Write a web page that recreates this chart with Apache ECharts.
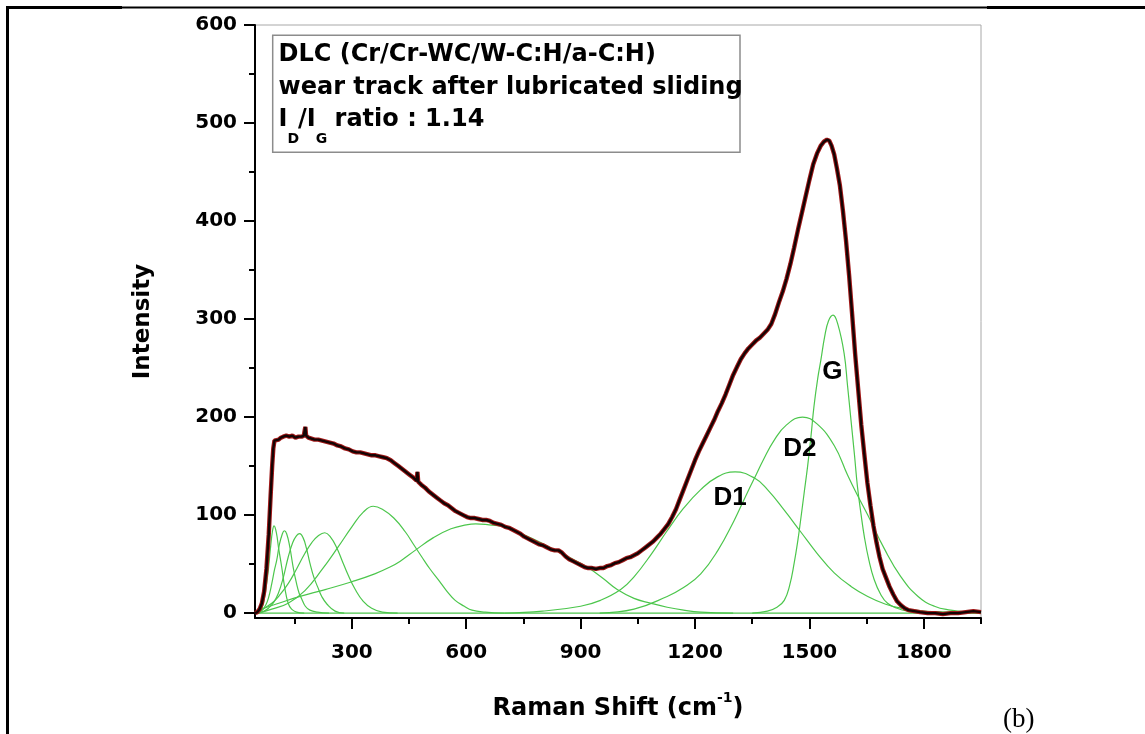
<!DOCTYPE html>
<html><head><meta charset="utf-8">
<script src="https://cdn.jsdelivr.net/npm/echarts@6/dist/echarts.min.js"></script>
<style>html,body{margin:0;padding:0;background:#fff;}#c{width:1145px;height:734px;}</style>
</head><body><div id="c"></div>
<script>
// ---- tick values ----
const xMajorTicks = [300, 600, 900, 1200, 1500, 1800];
const xMinorTicks = [150, 450, 750, 1050, 1350, 1650, 1950];
const yMajorTicks = [0, 100, 200, 300, 400, 500, 600];
const yMinorTicks = [50, 150, 250, 350, 450, 550];

// ---- measured spectrum (Raman shift, intensity) ----
const spectrum = [[46,0],[52,1],[58,4],[64,10],[70,22],[76,45],[82,80],[87,120],[91,150],[94,168],[97,176],[102,178],[108,177],[114,179],[120,180],[128,181],[136,180],[144,181],[152,179],[160,180],[168,180],[174,181],[177,179],[178,190],[180,181],[186,179],[194,178],[202,177],[212,177],[222,176],[232,175],[242,174],[252,173],[262,171],[272,170],[282,168],[292,167],[302,165],[312,164],[322,164],[332,163],[342,162],[352,161],[362,161],[372,160],[382,159],[392,158],[402,156],[412,153],[422,150],[432,147],[442,144],[452,141],[462,138],[470,135],[472,144],[474,134],[482,131],[492,128],[502,124],[512,121],[522,118],[532,115],[542,112],[552,110],[562,107],[572,104],[582,102],[592,100],[602,98],[612,97],[622,97],[632,96],[642,95],[652,95],[662,94],[672,92],[682,91],[692,90],[702,88],[712,87],[722,85],[732,83],[742,81],[752,78],[762,76],[772,74],[782,72],[792,70],[802,69],[812,67],[822,65],[832,64],[842,64],[850,62],[860,58],[870,55],[880,53],[890,51],[900,49],[910,47],[920,46],[930,46],[940,45],[950,46],[960,46],[970,48],[980,49],[990,51],[1000,52],[1010,54],[1020,56],[1030,57],[1040,59],[1050,61],[1060,64],[1070,67],[1080,70],[1090,73],[1100,77],[1110,81],[1120,86],[1130,91],[1140,98],[1150,106],[1160,116],[1170,126],[1180,136],[1190,146],[1200,156],[1210,165],[1220,173],[1230,181],[1240,189],[1250,197],[1260,206],[1270,214],[1280,223],[1290,233],[1300,243],[1310,251],[1320,259],[1330,265],[1340,270],[1350,274],[1360,278],[1370,281],[1380,285],[1390,289],[1400,295],[1410,305],[1420,317],[1430,328],[1440,341],[1450,356],[1460,373],[1470,391],[1480,408],[1490,425],[1500,442],[1510,458],[1520,469],[1530,477],[1538,481],[1546,483],[1552,482],[1558,477],[1565,468],[1572,454],[1580,436],[1588,410],[1596,380],[1604,345],[1612,305],[1620,264],[1628,228],[1636,192],[1644,162],[1652,133],[1660,110],[1668,89],[1676,72],[1684,57],[1692,45],[1700,37],[1710,27],[1720,19],[1730,12],[1740,8],[1750,5],[1760,3],[1775,2],[1790,1],[1810,0],[1830,0],[1850,-1],[1870,0],[1890,0],[1910,1],[1930,2],[1950,1]];

// ---- fitted component peaks ----
const peak1 = [[55,0],[62,3],[68,10],[75,26],[81,44],[87,68],[92,84],[96,89],[102,82],[108,66],[116,47],[124,26],[133,10],[142,4],[155,1],[175,0]];
const peak2 = [[55,0],[65,3],[74,8],[81,15],[90,30],[97,44],[103,54],[110,70],[117,80],[123,84],[129,81],[137,68],[146,47],[155,30],[162,20],[168,15],[178,7],[190,3],[210,1],[240,0]];
const peak3 = [[55,0],[70,2],[81,5],[95,11],[107,20],[120,36],[133,57],[145,72],[155,79],[163,81],[172,77],[181,66],[190,51],[200,37],[210,27],[221,17],[235,9],[256,2],[280,0]];
const peak4 = [[55,0],[70,5],[90,10],[110,18],[133,30],[155,45],[177,61],[195,72],[212,79],[229,82],[245,77],[260,67],[274,54],[290,39],[309,24],[330,12],[352,5],[380,1],[420,0]];
const peak5 = [[55,0],[90,4],[133,10],[177,23],[221,44],[265,68],[300,88],[330,103],[356,109],[380,106],[410,97],[440,83],[462,70],[484,57],[505,45],[527,34],[550,22],[571,13],[595,7],[615,3],[650,1],[700,0]];
const peak6 = [[55,3],[100,9],[164,17],[230,24],[300,32],[360,40],[400,47],[427,53],[466,64],[514,77],[560,86],[600,90],[625,91],[660,90],[703,88],[746,81],[790,73],[834,64],[880,55],[921,46],[960,35],[996,24],[1040,15],[1085,10],[1127,6],[1170,3],[1215,1],[1300,0]];
const peakD1 = [[700,0],[800,2],[900,7],[952,13],[1005,24],[1040,37],[1085,60],[1127,84],[1170,107],[1215,126],[1259,139],[1305,144],[1355,138],[1390,126],[1434,105],[1477,83],[1520,61],[1565,41],[1610,27],[1653,17],[1700,9],[1740,5],[1800,2],[1870,1],[1950,0]];
const peakD2 = [[950,0],[1040,4],[1127,17],[1170,26],[1215,40],[1260,64],[1302,94],[1330,117],[1355,137],[1380,157],[1407,176],[1440,192],[1482,200],[1520,193],[1565,171],[1600,141],[1625,121],[1653,100],[1696,66],[1740,37],[1785,17],[1828,7],[1870,3],[1915,1],[1950,0]];
const peakG = [[1350,0],[1390,2],[1415,6],[1434,13],[1448,28],[1460,51],[1470,75],[1477,95],[1486,122],[1495,149],[1504,180],[1512,211],[1522,240],[1530,258],[1540,282],[1550,298],[1562,304],[1575,294],[1591,265],[1600,232],[1609,197],[1618,162],[1626,129],[1635,102],[1644,78],[1656,54],[1670,34],[1687,19],[1705,10],[1730,5],[1758,2],[1800,0]];
const baseline = [[46,0],[1950,0]];
const peakLabels = [[1292,118,'D1'],[1475,168,'D2'],[1560,246,'G']];

// ---- texts ----
const xTitle = 'Raman Shift (cm';
const xTitleSup = '-1';
const yTitle = 'Intensity';
const boxLine1 = 'DLC (Cr/Cr-WC/W-C:H/a-C:H)';
const boxLine2 = 'wear track after lubricated sliding';
const boxLine3 = ['I', 'D', '/I', 'G', ' ratio : 1.14'];
const panelTag = '(b)';

const FONT = '"DejaVu Sans"';
const GREEN = '#4cc64c';

const chart = echarts.init(document.getElementById('c'), null, {renderer: 'canvas'});

const ctx = document.createElement('canvas').getContext('2d');
function tw(s, size) { ctx.font = 'bold ' + size + 'px ' + FONT; return ctx.measureText(s).width; }

function txt(s, x, y, size, family, weight) {
  return {type: 'text', x: x, y: y, silent: true, style: {
    text: s, fill: '#000', fontSize: size, fontFamily: family || FONT, fontWeight: weight || 'bold',
    align: 'left', textAlign: 'left', verticalAlign: 'middle', textVerticalAlign: 'middle'}};
}

// legend-box line 3 pieces (sub-scripts)
const x0 = 278.5, mainSize = 24, subSize = 14;
const mid1 = 54.7, mid2 = 88, mid3 = 119.7, subMid = 139.5;
let cx = x0;
const line3 = [];
boxLine3.forEach((p, i) => {
  const isSub = (i === 1 || i === 3);
  line3.push(txt(p, cx, isSub ? subMid : mid3, isSub ? subSize : mainSize));
  cx += tw(p, isSub ? subSize : mainSize) - (isSub ? 1 : 0);
});

function greenSeries(data) {
  return {type: 'line', data: data, showSymbol: false, smooth: 0.45,
    lineStyle: {color: GREEN, width: 1.2}, silent: true, z: 2};
}

const tickFmt = v => String(v);

const option = {
  animation: false,
  backgroundColor: '#fff',
  grid: {left: 255, top: 25, width: 726, height: 593, show: true, borderColor: '#a8a8a8', borderWidth: 1, containLabel: false},
  xAxis: [
    {type: 'value', min: 46, max: 1950, position: 'bottom',
      axisLine: {show: true, onZero: false, lineStyle: {color: '#000', width: 2}},
      axisTick: {show: true, customValues: xMajorTicks, length: 11, inside: false, lineStyle: {color: '#000', width: 2}},
      axisLabel: {customValues: xMajorTicks, formatter: tickFmt, margin: 25, color: '#000', fontSize: 20, fontWeight: 'bold', fontFamily: FONT},
      splitLine: {show: false},
      name: '{m|' + xTitle + '}{s|' + xTitleSup + '}{m|)}', nameLocation: 'middle', nameGap: 73,
      nameTextStyle: {rich: {
        m: {fontSize: 24, fontWeight: 'bold', fontFamily: FONT, color: '#000', lineHeight: 30, padding: [6, 0, 0, 0], verticalAlign: 'bottom'},
        s: {fontSize: 14, fontWeight: 'bold', fontFamily: FONT, color: '#000', lineHeight: 14, verticalAlign: 'top'}
      }}},
    {type: 'value', min: 46, max: 1950, position: 'bottom', gridIndex: 0,
      axisLine: {show: false, onZero: false},
      axisTick: {show: true, customValues: xMinorTicks, length: 6, inside: false, lineStyle: {color: '#000', width: 2}},
      axisLabel: {show: false}, splitLine: {show: false}}
  ],
  yAxis: [
    {type: 'value', min: -5, max: 600, position: 'left',
      axisLine: {show: true, onZero: false, lineStyle: {color: '#000', width: 2}},
      axisTick: {show: true, customValues: yMajorTicks, length: 11, inside: false, lineStyle: {color: '#000', width: 2}},
      axisLabel: {customValues: yMajorTicks, formatter: tickFmt, margin: 18, color: '#000', fontSize: 20, fontWeight: 'bold', fontFamily: FONT},
      splitLine: {show: false},
      name: yTitle, nameLocation: 'middle', nameGap: 100, nameRotate: 90,
      nameTextStyle: {fontSize: 23, fontWeight: 'bold', fontFamily: FONT, color: '#000'}},
    {type: 'value', min: -5, max: 600, position: 'left', gridIndex: 0,
      axisLine: {show: false, onZero: false},
      axisTick: {show: true, customValues: yMinorTicks, length: 6, inside: false, lineStyle: {color: '#000', width: 2}},
      axisLabel: {show: false}, splitLine: {show: false}}
  ],
  series: [
    greenSeries(baseline),
    greenSeries(peak1), greenSeries(peak2), greenSeries(peak3), greenSeries(peak4),
    greenSeries(peak5), greenSeries(peak6), greenSeries(peakD1), greenSeries(peakD2), greenSeries(peakG),
    {type: 'line', data: spectrum, showSymbol: false, lineStyle: {color: '#a01818', width: 4.4}, z: 3, silent: true},
    {type: 'line', data: spectrum, showSymbol: false, lineStyle: {color: '#140404', width: 2.4}, z: 4, silent: true},
    {type: 'scatter', data: peakLabels.map(p => ({value: [p[0], p[1]], name: p[2]})), symbolSize: 0, z: 5, silent: true,
      itemStyle: {opacity: 1},
      label: {show: true, position: 'inside', formatter: p => p.name, color: '#000', opacity: 1, textBorderWidth: 0,
        fontSize: 26, fontWeight: 'bold', fontFamily: '"Liberation Sans"'}}
  ],
  graphic: [
    {type: 'line', silent: true, shape: {x1: 7.5, y1: 6, x2: 7.5, y2: 734}, style: {stroke: '#000', lineWidth: 3}},
    {type: 'line', silent: true, shape: {x1: 6, y1: 7.5, x2: 122, y2: 7.5}, style: {stroke: '#000', lineWidth: 3}},
    {type: 'line', silent: true, shape: {x1: 122, y1: 7.5, x2: 987, y2: 7.5}, style: {stroke: '#000', lineWidth: 2}},
    {type: 'line', silent: true, shape: {x1: 987, y1: 7.5, x2: 1145, y2: 7.5}, style: {stroke: '#000', lineWidth: 3}},
    {type: 'rect', silent: true, shape: {x: 272.7, y: 35.3, width: 467.3, height: 117}, style: {fill: '#fff', stroke: '#8c8c8c', lineWidth: 1.5}, z: 10},
    Object.assign(txt(boxLine1, x0, mid1, mainSize), {z: 11}),
    Object.assign(txt(boxLine2, x0, mid2, mainSize), {z: 11}),
    ...line3.map(e => Object.assign(e, {z: 11})),
    txt(panelTag, 1003, 720, 27, '"Liberation Serif"', 'normal')
  ]
};
chart.setOption(option);
</script></body></html>
